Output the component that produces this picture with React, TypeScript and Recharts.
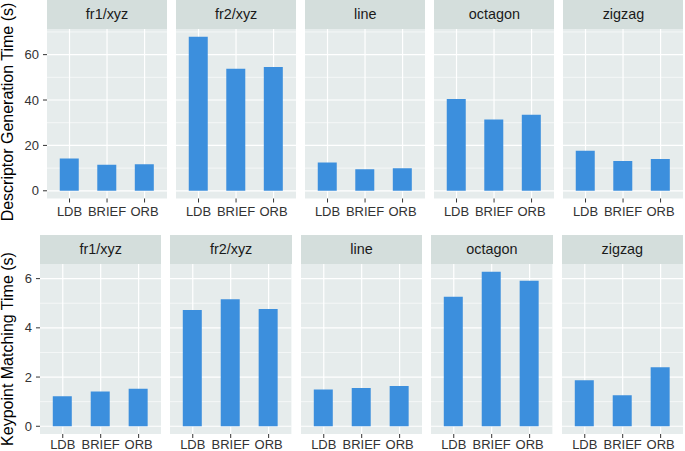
import React from "react";
import { BarChart, Bar, XAxis, YAxis, CartesianGrid, ReferenceLine } from "recharts";

const algorithms = ["LDB", "BRIEF", "ORB"];
const datasets = ["fr1/xyz", "fr2/xyz", "line", "octagon", "zigzag"];

// seconds
const descFr1 = [14.2, 11.5, 11.7];
const descFr2 = [67.9, 53.8, 54.6];
const descLine = [12.5, 9.5, 9.9];
const descOctagon = [40.5, 31.4, 33.5];
const descZigzag = [17.7, 13.1, 14.0];

const matchFr1 = [1.22, 1.41, 1.52];
const matchFr2 = [4.73, 5.16, 4.77];
const matchLine = [1.49, 1.56, 1.64];
const matchOctagon = [5.26, 6.28, 5.91];
const matchZigzag = [1.87, 1.26, 2.4];

const descTicks = [0, 20, 40, 60];
const descMinor = [10, 30, 50, 70];
const matchTicks = [0, 2, 4, 6];
const matchMinor = [1, 3, 5];

const PANEL_BG = "#E6ECEC";
const STRIP_BG = "#D4DEDC";
const BAR = "#3C8FDD";
const TEXT = "#333333";

type Row = { alg: string; value: number };

const toRows = (vals: number[]): Row[] => algorithms.map((alg, i) => ({ alg, value: vals[i] }));

const expanded = (series: number[][]): [number, number] => {
  const max = Math.max(...series.flat());
  return [-max * 0.05, max * 1.05];
};

interface PanelProps {
  title: string;
  values: number[];
  left: number;
  top: number;
  width: number;
  stripH: number;
  plotH: number;
  yW: number;
  showY: boolean;
  domain: [number, number];
  ticks: number[];
  minor: number[];
  tickGap: number;
}

const Panel: React.FC<PanelProps> = ({ title, values, left, top, width, stripH, plotH, yW, showY, domain, ticks, minor, tickGap }) => {
  const off = showY ? yW : 0;
  const pad = width * 0.03125;
  const rows = toRows(values);
  // two stacked charts with identical layout: grid underneath, bars on top
  const axes = (withText: boolean) => [
    <XAxis
      key="x" dataKey="alg" type="category" interval={0} height={22} padding={{ left: pad, right: pad }}
      axisLine={false} tickSize={4} tickMargin={tickGap} tickLine={withText ? { stroke: TEXT } : false}
      tick={withText ? { fill: TEXT, fontSize: 13 } : false}
    />,
    <YAxis
      key="y" type="number" domain={domain} ticks={ticks} allowDataOverflow hide={!showY} width={yW}
      axisLine={false} tickSize={4} tickMargin={4} tickLine={withText ? { stroke: TEXT } : false}
      tick={withText ? { fill: TEXT, fontSize: 13 } : false}
    />,
  ];
  const size = { width: width + off, height: plotH + 22 };
  const margin = { top: 0, right: 0, bottom: 0, left: 0 };
  return (
    <div style={{ position: "absolute", left: left - off, top }}>
      <div
        style={{
          position: "absolute", left: off, top: 0, width, height: stripH, background: STRIP_BG,
          display: "flex", alignItems: "center", justifyContent: "center", fontSize: 14.4, color: "#1a1a1a",
        }}
      >
        {title}
      </div>
      <div style={{ position: "absolute", left: 0, top: stripH }}>
        <BarChart {...size} data={rows} margin={margin}>
          <CartesianGrid horizontal={false} vertical={false} fill={PANEL_BG} fillOpacity={1} />
          {minor.map((v) => <ReferenceLine key={"m" + v} y={v} stroke="#fff" strokeWidth={0.6} />)}
          {ticks.map((v) => <ReferenceLine key={"t" + v} y={v} stroke="#fff" strokeWidth={1.2} />)}
          {algorithms.map((a) => <ReferenceLine key={a} x={a} stroke="#fff" strokeWidth={1.2} />)}
          {axes(true)}
        </BarChart>
      </div>
      <div style={{ position: "absolute", left: 0, top: stripH }}>
        <BarChart {...size} data={rows} margin={margin}>
          {axes(false)}
          <Bar dataKey="value" fill={BAR} barSize={19} isAnimationActive={false} />
        </BarChart>
      </div>
    </div>
  );
};

const descSeries = [descFr1, descFr2, descLine, descOctagon, descZigzag];
const matchSeries = [matchFr1, matchFr2, matchLine, matchOctagon, matchZigzag];

const App: React.FC = () => {
  const descDomain = expanded(descSeries);
  const matchDomain = expanded(matchSeries);
  return (
    <div
      style={{
        position: "absolute", left: 0, top: 0, width: 685, height: 451, overflow: "hidden", background: "#fff",
        fontFamily: "'Liberation Sans', Arial, sans-serif",
      }}
    >
      {datasets.map((d, i) => (
        <Panel
          key={"d" + d} title={d} values={descSeries[i]} left={47 + i * 129.1} top={0} width={120.1}
          stripH={28.5} plotH={169.5} yW={47} showY={i === 0} domain={descDomain} ticks={descTicks}
          minor={descMinor} tickGap={4}
        />
      ))}
      {datasets.map((d, i) => (
        <Panel
          key={"k" + d} title={d} values={matchSeries[i]} left={40 + i * 130.4} top={235} width={121.4}
          stripH={28.5} plotH={170} yW={40} showY={i === 0} domain={matchDomain} ticks={matchTicks}
          minor={matchMinor} tickGap={2}
        />
      ))}
      <div
        style={{
          position: "absolute", left: 8, top: 112, transform: "translate(-50%, -50%) rotate(-90deg)",
          whiteSpace: "nowrap", fontSize: 16, color: "#000",
        }}
      >
        Descriptor Generation Time (s)
      </div>
      <div
        style={{
          position: "absolute", left: 8, top: 349, transform: "translate(-50%, -50%) rotate(-90deg)",
          whiteSpace: "nowrap", fontSize: 16, color: "#000",
        }}
      >
        Keypoint Matching Time (s)
      </div>
    </div>
  );
};

export default App;
